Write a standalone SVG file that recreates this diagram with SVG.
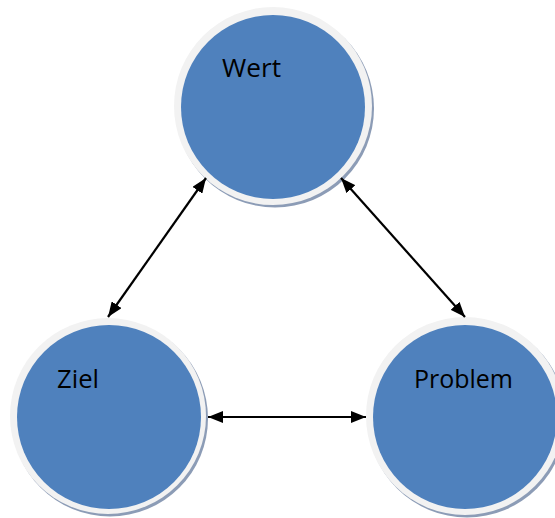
<svg xmlns="http://www.w3.org/2000/svg" width="555" height="518" viewBox="0 0 555 518">
<style>
.shadow{fill:#8c9cb6;}
.ring{fill:#f2f2f2;}
.core{fill:#4f81bd;}
.lbl{font-family:"Open Sans","Liberation Sans",sans-serif;font-size:25px;fill:#000;}
.conn{stroke:#000;stroke-width:2.2;fill:none;}
</style>
<defs>
<marker id="ah" viewBox="0 0 15 12" refX="15" refY="6" markerWidth="15" markerHeight="12" markerUnits="userSpaceOnUse" orient="auto-start-reverse">
<path d="M0,0 L15,6 L0,12 z" fill="#000"/>
</marker>
</defs>
<rect width="555" height="518" fill="#fff"/>
<g id="node-wert">
<circle class="shadow" cx="275" cy="108.5" r="99"/>
<circle class="ring" cx="273" cy="106" r="99"/>
<circle class="core" cx="273" cy="107" r="92"/>
<text class="lbl" x="222" y="77" textLength="59" lengthAdjust="spacingAndGlyphs">Wert</text>
</g>
<g id="node-ziel">
<circle class="shadow" cx="110" cy="418.5" r="98"/>
<circle class="ring" cx="108" cy="416" r="98"/>
<circle class="core" cx="109" cy="417" r="92"/>
<text class="lbl" x="57" y="388" textLength="42" lengthAdjust="spacingAndGlyphs">Ziel</text>
</g>
<g id="node-problem">
<circle class="shadow" cx="467" cy="418.5" r="99"/>
<circle class="ring" cx="465" cy="416" r="99"/>
<circle class="core" cx="465" cy="417" r="92"/>
<text class="lbl" x="414" y="388" textLength="99" lengthAdjust="spacingAndGlyphs">Problem</text>
</g>
<g id="connectors">
<line class="conn" x1="206" y1="178" x2="108" y2="317" marker-start="url(#ah)" marker-end="url(#ah)"/>
<line class="conn" x1="341" y1="178" x2="465" y2="317" marker-start="url(#ah)" marker-end="url(#ah)"/>
<line class="conn" x1="208" y1="417" x2="366" y2="417" marker-start="url(#ah)" marker-end="url(#ah)"/>
</g>
</svg>
